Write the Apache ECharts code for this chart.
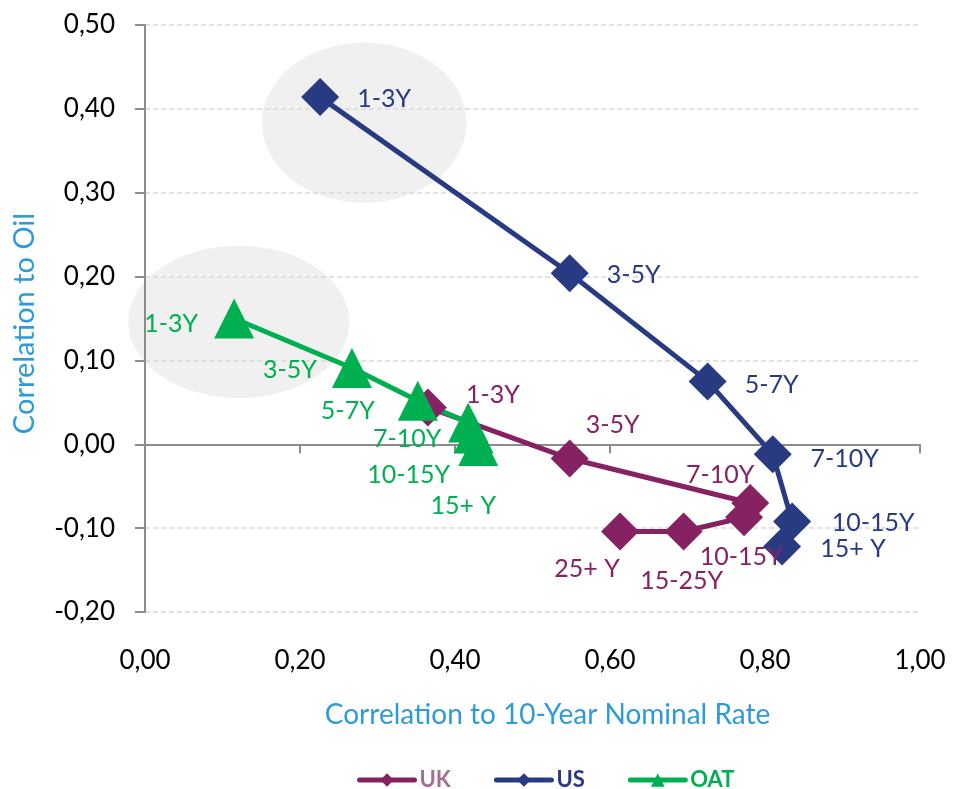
<!DOCTYPE html>
<html>
<head>
<meta charset="utf-8">
<script src="https://cdn.jsdelivr.net/npm/echarts@6/dist/echarts.min.js"></script>
<style>
  html, body { margin: 0; padding: 0; background: #ffffff; }
  #chart { width: 953px; height: 789px; }
</style>
</head>
<body>
<div id="chart"></div>
<script>
// Tenor buckets for each curve
const ukTenors  = ['1-3Y', '3-5Y', '7-10Y', '10-15Y', '15-25Y', '25+ Y'];
const usTenors  = ['1-3Y', '3-5Y', '5-7Y', '7-10Y', '10-15Y', '15+ Y'];
const oatTenors = ['1-3Y', '3-5Y', '5-7Y', '7-10Y', '10-15Y', '15+ Y'];

// Correlation to 10-year nominal rate (x) and to oil (y)
const ukX  = [0.365, 0.548, 0.781, 0.773, 0.695, 0.613];
const ukY  = [0.044, -0.017, -0.070, -0.087, -0.104, -0.104];
const usX  = [0.226, 0.548, 0.726, 0.810, 0.835, 0.822];
const usY  = [0.414, 0.204, 0.075, -0.012, -0.092, -0.122];
const oatX = [0.115, 0.267, 0.352, 0.417, 0.424, 0.430];
const oatY = [0.150, 0.091, 0.052, 0.026, 0.013, -0.002];

// Axis ranges
const xMin = 0, xMax = 1, xStep = 0.2;
const yMin = -0.2, yMax = 0.5, yStep = 0.1;

// Label placement (pixel offsets from each marker centre)
const ukLabelOffsets  = [[65, -12], [43, -34], [-30, -28], [-3, 40], [-2, 49], [-33, 37]];
const usLabelOffsets  = [[64, 2], [64, 2], [64, 4], [72, 5], [81, 2], [71, 2]];
const oatLabelOffsets = [[-63, 5], [-62, 2], [-70, 10], [-61, 16], [-65, 42], [-15, 60]];

// Highlight ellipses around the short-end points (data-space centre and radii)
const highlights = [
  { cx: 0.283, cy: 0.3835, rx: 0.132, ry: 0.0956 },
  { cx: 0.121, cy: 0.146,  rx: 0.1426, ry: 0.0908 }
];

const FONT = 'Lato';
const COLORS = { UK: '#862262', US: '#283A82', OAT: '#00B050' };
const fmt = v => v.toFixed(2).replace('.', ',');

function buildData(xs, ys, names, offsets) {
  return xs.map((x, i) => ({
    value: [x, ys[i]],
    name: names[i],
    label: { offset: offsets[i] }
  }));
}

function makeSeries(name, xs, ys, names, offsets, symbol, size) {
  const color = COLORS[name];
  return {
    name: name,
    type: 'line',
    xAxisIndex: 0,
    yAxisIndex: 0,
    data: buildData(xs, ys, names, offsets),
    symbol: symbol,
    symbolSize: size,
    showAllSymbol: true,
    lineStyle: { color: color, width: 5 },
    itemStyle: { color: color },
    label: {
      show: true,
      position: 'inside',
      formatter: p => p.name,
      color: color,
      fontFamily: FONT,
      fontSize: 25
    },
    emphasis: { disabled: true },
    animation: false
  };
}

const chart = echarts.init(document.getElementById('chart'), null, { renderer: 'canvas' });

const option = {
  backgroundColor: '#ffffff',
  animation: false,
  grid: { left: 145, right: 33, top: 25, bottom: 177, containLabel: false },
  legend: {
    left: 352,
    top: 764,
    itemWidth: 55,
    itemHeight: 17,
    itemGap: 43,
    lineStyle: { width: 5, cap: 'round' },
    data: [
      { name: 'UK',  textStyle: { color: '#A0708F' } },
      { name: 'US',  textStyle: { color: '#283A82' } },
      { name: 'OAT', textStyle: { color: '#00B050' } }
    ],
    textStyle: { fontFamily: FONT, fontSize: 22, fontWeight: 'bold' },
    selectedMode: false
  },
  xAxis: [
    {
      // axis line through y = 0 with downward ticks
      type: 'value',
      min: xMin, max: xMax, interval: xStep,
      axisLine: { show: true, onZero: true, lineStyle: { color: '#8C8C8C', width: 2 } },
      axisTick: { show: true, inside: false, length: 9, lineStyle: { color: '#8C8C8C', width: 2 } },
      axisLabel: { show: false },
      splitLine: { show: false }
    },
    {
      // tick labels and title along the bottom edge
      type: 'value',
      position: 'bottom',
      min: xMin, max: xMax, interval: xStep,
      axisLine: { show: false, onZero: false },
      axisTick: { show: false },
      axisLabel: {
        show: true, margin: 36, formatter: fmt,
        color: '#000000', fontFamily: FONT, fontSize: 26
      },
      splitLine: { show: false },
      name: 'Correlation to 10-Year Nominal Rate',
      nameLocation: 'middle',
      nameGap: 89,
      nameTextStyle: { color: '#2E9BD8', fontFamily: FONT, fontSize: 28, padding: [0, 0, 0, 30] }
    }
  ],
  yAxis: {
    type: 'value',
    min: yMin, max: yMax, interval: yStep,
    axisLine: { show: true, onZero: false, lineStyle: { color: '#8C8C8C', width: 2 } },
    axisTick: { show: true, inside: false, length: 10, lineStyle: { color: '#8C8C8C', width: 2 } },
    axisLabel: {
      margin: 30, formatter: fmt,
      color: '#000000', fontFamily: FONT, fontSize: 26
    },
    splitLine: { show: true, lineStyle: { color: '#D9D9D9', width: 1.5, type: [5, 3] } },
    name: 'Correlation to Oil',
    nameLocation: 'middle',
    nameGap: 106,
    nameTextStyle: { color: '#2E9BD8', fontFamily: FONT, fontSize: 29, padding: [0, 10, 0, 0] }
  },
  series: [
    makeSeries('UK',  ukX,  ukY,  ukTenors,  ukLabelOffsets,  'diamond',  38),
    makeSeries('US',  usX,  usY,  usTenors,  usLabelOffsets,  'diamond',  38),
    makeSeries('OAT', oatX, oatY, oatTenors, oatLabelOffsets, 'triangle', [40, 40])
  ]
};

chart.setOption(option);

// Place the grey highlight ellipses using the grid's own scales
const ellipseEls = highlights.map(h => {
  const c = chart.convertToPixel({ gridIndex: 0 }, [h.cx, h.cy]);
  const e = chart.convertToPixel({ gridIndex: 0 }, [h.cx + h.rx, h.cy + h.ry]);
  const rx = Math.abs(e[0] - c[0]);
  const ry = Math.abs(c[1] - e[1]);
  return {
    type: 'circle',
    x: c[0], y: c[1],
    scaleX: rx / ry, scaleY: 1,
    shape: { cx: 0, cy: 0, r: ry },
    style: { fill: '#F0F0F0' },
    silent: true,
    z: -10
  };
});
chart.setOption({ graphic: ellipseEls });
</script>
</body>
</html>
